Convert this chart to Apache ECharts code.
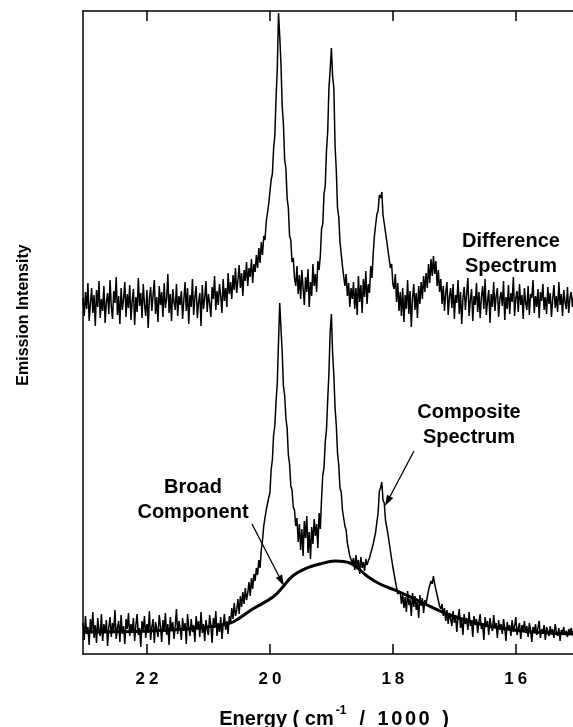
<!DOCTYPE html>
<html>
<head>
<meta charset="utf-8">
<title>Emission spectra</title>
<script src="https://cdn.jsdelivr.net/npm/echarts@6/dist/echarts.min.js"></script>
<style>
  html, body { margin: 0; padding: 0; background: #fff; }
  #chart { width: 573px; height: 727px; }
</style>
</head>
<body>
<div id="chart"></div>
<script>
// energy grid in cm^-1 / 1000, sampled from high to low energy
const energyStart = 23.04
const energyStep = 0.02

// upper trace, arbitrary units
const differenceSpectrum = [
  356, 338, 362, 345, 371, 333, 350, 366, 341, 359, 328, 364, 347, 373, 336, 355, 343, 368, 331, 352,
  361, 340, 374, 348, 335, 363, 351, 377, 339, 358, 330, 366, 344, 355, 372, 337, 360, 346, 369, 334,
  353, 365, 329, 357, 342, 376, 348, 361, 336, 370, 350, 338, 364, 326, 356, 367, 343, 359, 374, 340,
  357, 332, 368, 349, 362, 337, 371, 346, 355, 380, 341, 360, 333, 365, 352, 344, 370, 338, 358, 349,
  363, 335, 354, 372, 343, 366, 330, 359, 347, 375, 339, 357, 368, 336, 352, 361, 328, 369, 345, 356,
  373, 342, 360, 351, 337, 367, 355, 378, 344, 363, 349, 370, 358, 341, 375, 353, 366, 347, 381, 360,
  372, 355, 379, 364, 386, 361, 374, 389, 366, 381, 358, 384, 373, 392, 368, 386, 377, 395, 371, 390,
  382, 399, 386, 406, 391, 412, 399, 418, 414, 432, 430, 450, 452, 474, 480, 505, 518, 556, 585, 641,
  618, 590, 548, 530, 494, 486, 456, 446, 418, 414, 392, 396, 376, 368, 388, 360, 379, 355, 384, 366,
  349, 377, 362, 385, 347, 372, 358, 390, 368, 380, 362, 393, 384, 398, 425, 430, 460, 468, 503, 522,
  566, 584, 606, 578, 566, 508, 484, 446, 437, 412, 410, 388, 389, 368, 380, 358, 371, 347, 366, 355,
  372, 345, 366, 339, 378, 352, 369, 341, 375, 357, 383, 350, 370, 361, 388, 376, 400, 418, 420, 440,
  443, 459, 456, 462, 439, 441, 422, 424, 404, 406, 386, 390, 370, 365, 380, 352, 371, 343, 362, 338,
  366, 332, 359, 345, 374, 340, 363, 327, 356, 370, 344, 361, 336, 368, 350, 372, 355, 378, 362, 381,
  366, 390, 371, 395, 378, 398, 380, 393, 368, 384, 362, 375, 350, 368, 343, 361, 372, 339, 357, 366,
  346, 370, 335, 359, 351, 374, 340, 362, 330, 356, 367, 344, 360, 376, 338, 354, 365, 333, 358, 349,
  371, 342, 362, 336, 357, 368, 345, 375, 339, 353, 364, 331, 360, 347, 372, 343, 358, 366, 337, 355,
  362, 348, 373, 334, 357, 345, 369, 340, 361, 352, 377, 338, 356, 363, 342, 370, 349, 359, 335, 366,
  351, 344, 368, 339, 360, 356, 374, 341, 358, 347, 365, 336, 362, 353, 370, 344, 357, 340, 367, 350,
  361, 337, 355, 369, 346, 358, 342, 372, 349, 360, 338, 364, 352, 345, 367, 341, 356, 362, 347, 358
]

// lower trace
const compositeSpectrum = [
  31, 14, 38, 20, 27, 9, 35, 22, 42, 16, 29, 11, 36, 24, 18, 40, 13, 30, 21, 34,
  8, 27, 37, 17, 31, 23, 44, 15, 26, 33, 12, 39, 20, 28, 10, 35, 25, 41, 18, 30,
  22, 36, 13, 29, 40, 19, 26, 7, 33, 24, 38, 16, 30, 21, 43, 14, 27, 35, 11, 32,
  25, 17, 39, 28, 12, 34, 22, 41, 19, 30, 9, 37, 24, 32, 15, 28, 45, 20, 33, 26,
  14, 36, 23, 31, 10, 40, 27, 18, 35, 22, 29, 12, 38, 25, 33, 17, 42, 21, 30, 13,
  34, 24, 19, 39, 28, 11, 36, 26, 43, 18, 31, 22, 37, 15, 29, 40, 24, 33, 20, 38,
  30, 46, 35, 51, 38, 44, 55, 40, 58, 47, 62, 50, 66, 54, 61, 72, 58, 76, 65, 80,
  73, 86, 79, 94, 86, 104, 114, 128, 129, 144, 142, 156, 161, 184, 194, 219, 228, 252, 271, 312,
  351, 326, 302, 268, 259, 236, 226, 199, 190, 168, 164, 147, 144, 128, 136, 112, 130, 104, 125, 98,
  133, 116, 138, 101, 122, 95, 127, 110, 135, 118, 130, 106, 141, 125, 155, 179, 186, 212, 224, 254,
  281, 322, 340, 301, 279, 246, 229, 201, 189, 166, 162, 144, 142, 128, 124, 111, 110, 98, 99, 91,
  96, 84, 99, 87, 94, 80, 97, 86, 92, 83, 95, 89, 93, 96, 101, 105, 110, 116, 122, 132,
  141, 163, 166, 172, 154, 151, 134, 133, 120, 119, 103, 102, 87, 86, 73, 72, 60, 61, 62, 50,
  60, 46, 57, 42, 63, 49, 55, 38, 61, 47, 58, 44, 53, 36, 59, 48, 56, 41, 54, 50,
  57, 64, 62, 73, 70, 78, 70, 72, 59, 61, 48, 45, 50, 38, 46, 33, 44, 30, 41, 35,
  28, 43, 31, 39, 22, 37, 45, 26, 34, 19, 40, 30, 36, 24, 42, 28, 33, 17, 38, 29,
  35, 21, 32, 40, 25, 30, 14, 37, 27, 33, 19, 36, 28, 23, 39, 26, 31, 16, 34, 24,
  30, 20, 35, 26, 13, 32, 24, 29, 18, 34, 22, 28, 37, 19, 26, 31, 15, 29, 23, 33,
  21, 28, 17, 31, 24, 12, 27, 22, 30, 19, 26, 33, 16, 25, 21, 29, 14, 27, 23, 18,
  28, 20, 25, 16, 30, 22, 18, 26, 13, 24, 21, 27, 19, 23, 17, 25, 21, 26, 20, 23
]

// broad component, coarser sampling
const broadEnergy = [23.04, 21.95, 21.14, 20.81, 20.60, 20.28, 19.95, 19.79, 19.63, 19.40, 19.19,
  18.94, 18.70, 18.42, 18.21, 17.89, 17.51, 17.07, 16.58, 16.26, 15.72, 15.07]
const broadComponent = [22, 23, 26, 29, 32, 45, 57, 67, 78, 86, 90,
  93, 91, 78, 70, 62, 51, 39, 30, 26, 22, 20]

const tickValues = [16, 18, 20, 22]

const font = 'Liberation Sans, Arial, Helvetica, sans-serif'

function toPairs(values) {
  return values.map((v, i) => [+(energyStart - energyStep * i).toFixed(2), v])
}

function arrow(x1, y1, x2, y2) {
  const dx = x2 - x1
  const dy = y2 - y1
  const len = Math.sqrt(dx * dx + dy * dy)
  const ux = dx / len
  const uy = dy / len
  const bx = x2 - ux * 11
  const by = y2 - uy * 11
  return [
    {
      type: 'line', z: 100,
      shape: { x1: x1, y1: y1, x2: bx, y2: by },
      style: { stroke: '#000', lineWidth: 1.3 }
    },
    {
      type: 'polygon', z: 100,
      shape: { points: [[x2, y2], [bx - uy * 3.5, by + ux * 3.5], [bx + uy * 3.5, by - ux * 3.5]] },
      style: { fill: '#000' }
    }
  ]
}

function label(text, x, y) {
  return {
    type: 'text', z: 100, x: x, y: y,
    style: {
      text: text, fill: '#000', font: 'bold 20px ' + font,
      align: 'center', verticalAlign: 'middle', lineHeight: 25
    }
  }
}

const chart = echarts.init(document.getElementById('chart'))

const axisCommon = {
  type: 'value',
  min: 15.07,
  max: 23.04,
  inverse: true,
  axisLine: { show: true, onZero: false, lineStyle: { color: '#000', width: 1.5 } },
  axisTick: { show: true, inside: true, length: 10, customValues: tickValues, lineStyle: { color: '#000', width: 1.5 } },
  splitLine: { show: false }
}

chart.setOption({
  animation: false,
  grid: { left: 83, right: 0, top: 11, bottom: 73 },
  xAxis: [
    Object.assign({}, axisCommon, {
      position: 'bottom',
      axisLabel: {
        customValues: tickValues,
        margin: 17,
        formatter: function(v) {
          return String(v).split('').map(c => '{d|' + c + '}').join('')
        },
        rich: {
          d: { fontSize: 17, fontWeight: 'bold', fontFamily: font, color: '#000', padding: [0, 2] }
        }
      }
    }),
    Object.assign({}, axisCommon, {
      position: 'top',
      axisLabel: { show: false }
    })
  ],
  yAxis: {
    type: 'value',
    min: 0,
    max: 643,
    axisLine: { show: true, onZero: false, lineStyle: { color: '#000', width: 1.5 } },
    axisTick: { show: false },
    axisLabel: { show: false },
    splitLine: { show: false }
  },
  series: [
    {
      type: 'line',
      data: toPairs(differenceSpectrum),
      symbol: 'none',
      lineStyle: { color: '#000', width: 1.5 }
    },
    {
      type: 'line',
      data: toPairs(compositeSpectrum),
      symbol: 'none',
      lineStyle: { color: '#000', width: 1.5 }
    },
    {
      type: 'line',
      data: broadEnergy.map((e, i) => [e, broadComponent[i]]),
      symbol: 'none',
      smooth: 0.4,
      lineStyle: { color: '#000', width: 3 }
    }
  ],
  graphic: [
    label('Difference\nSpectrum', 511, 254),
    label('Composite\nSpectrum', 469, 425),
    label('Broad\nComponent', 193, 500),
    ...arrow(252, 524, 284, 586),
    ...arrow(414, 451, 385, 506),
    {
      type: 'text', z: 100, x: 24, y: 315, rotation: Math.PI / 2,
      style: {
        text: 'Emission Intensity', fill: '#000', font: 'bold 16px ' + font,
        align: 'center', verticalAlign: 'middle'
      }
    },
    {
      type: 'text', z: 100, x: 334, y: 717,
      style: {
        text: '{t|Energy ( cm}{s|-1}{t|  /  }{n|1}{n|0}{n|0}{n|0}{t|  )}',
        align: 'center', verticalAlign: 'middle',
        rich: {
          t: { fontSize: 20, fontWeight: 'bold', fontFamily: font, color: '#000', lineHeight: 24, verticalAlign: 'bottom' },
          n: { fontSize: 20, fontWeight: 'bold', fontFamily: font, color: '#000', lineHeight: 24, verticalAlign: 'bottom', padding: [0, 1.3] },
          s: { fontSize: 12, fontWeight: 'bold', fontFamily: font, color: '#000', lineHeight: 24, verticalAlign: 'top', padding: [0, 2, 0, 2] }
        }
      }
    }
  ]
})
</script>
</body>
</html>
